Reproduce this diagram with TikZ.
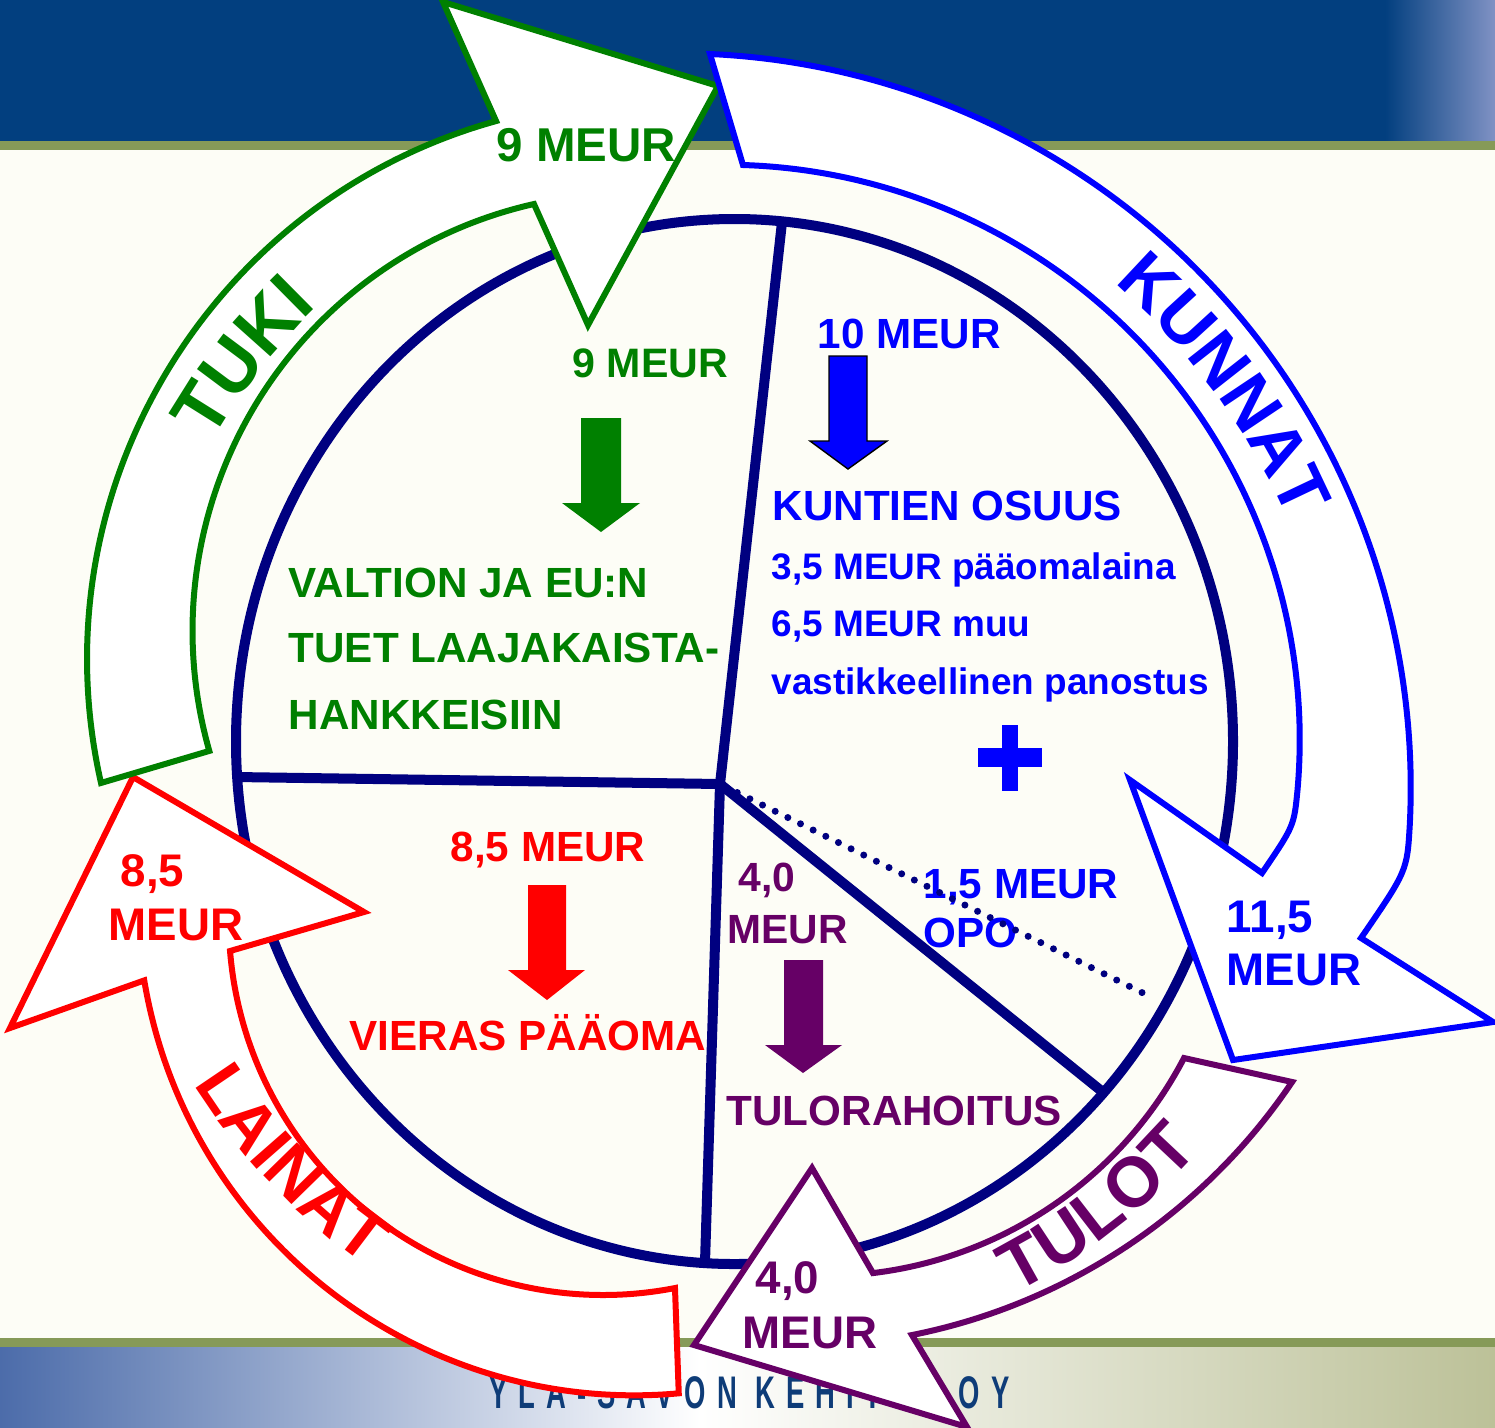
\documentclass[tikz,border=0pt]{standalone}
\usepackage{fontspec}
\setmainfont{Liberation Sans}
\usepackage{graphicx}
\usepackage{xcolor}
\usetikzlibrary{calc, decorations.text}
\definecolor{topblue}{RGB}{2,63,127}
\definecolor{topfade}{RGB}{128,146,196}
\definecolor{stripe}{RGB}{134,154,88}
\definecolor{cream}{RGB}{253,253,246}
\definecolor{bandleft}{RGB}{76,108,170}
\definecolor{bandright}{RGB}{188,193,152}
\definecolor{logoblue}{RGB}{14,60,120}
\definecolor{pienavy}{RGB}{0,0,128}
\definecolor{tukigreen}{RGB}{0,128,0}
\definecolor{kunblue}{RGB}{0,0,255}
\definecolor{lainared}{RGB}{255,0,0}
\definecolor{tulopurple}{RGB}{102,0,102}
\newcommand{\arcfont}{\bfseries\fontsize{20}{24}\selectfont}
\tikzset{%
	flow/.style={
		fill=white,
		line width=0.06cm,
		line join=miter
	},
	pieline/.style={
		draw=pienavy,
		line width=0.1cm
	},
	txt/.style={
		anchor=base west,
		inner sep=0pt,
		font=\bfseries\fontsize{12}{14}\selectfont
	},
	bigtxt/.style={txt, font=\bfseries\fontsize{13}{15}\selectfont},
	smalltxt/.style={txt, font=\bfseries\fontsize{10.5}{12}\selectfont},
}

\begin{document}
\begin{tikzpicture}[
				x=0.01cm, y=-0.01cm,
				]
				\useasboundingbox (0,0) rectangle (1495,1427);
				\clip (0,0) rectangle (1495,1427);
				\fill[cream] (0,0) rectangle (1495,1427);
				\fill[topblue] (0,0) rectangle (1495,141);
				\shade[left color=topblue, right color=topfade] (1385,0) rectangle (1495,141);
				\fill[stripe] (0,141) rectangle (1495,150);
				\fill[stripe] (0,1338) rectangle (1495,1347);
				\shade[left color=bandleft, right color=white] (0,1347) rectangle (700,1427);
				\shade[left color=white, right color=bandright] (700,1347) rectangle (1495,1427);
				\node[anchor=base west, inner sep=0pt, text=logoblue, font=\bfseries\fontsize{13}{15}\selectfont] (logo) at (489,1408) {\scalebox{0.6}[1]{\addfontfeature{LetterSpace=40}YLA-SAVON KEHITYS OY}};

				\coordinate (pie) at (734.5,741.5);
				\coordinate (flowc) at (735,743);
				\coordinate (C) at (720,784);
				\coordinate (ctop) at (782,222);
				\coordinate (cleft) at (236,777);
				\coordinate (cbottom) at (705,1262);
				\coordinate (cright) at (1104,1093);
				\coordinate (copo) at (1151,997);
				\draw[pieline] (pie) ellipse [x radius=498.5, y radius=522.5];
				\draw[pieline] (C) -- (ctop);
				\draw[pieline] (C) -- (cleft);
				\draw[pieline] (C) -- (cbottom);
				\draw[pieline] (C) -- (cright);

				\fill[tukigreen] (581,418) -- (621,418) -- (621,503) -- (640,503) -- (601,532) -- (562,503) -- (581,503) -- cycle;
				\filldraw[fill=kunblue, draw=black, line width=0.4pt] (829,356) -- (867,356) -- (867,441) -- (887,441) -- (848,469) -- (810,441) -- (829,441) -- cycle;
				\fill[tulopurple] (784,960) -- (823,960) -- (823,1045) -- (842,1045) -- (803,1073) -- (765,1045) -- (784,1045) -- cycle;
				\fill[lainared] (528,885) -- (566,885) -- (566,970) -- (585,970) -- (547,1000) -- (508,970) -- (528,970) -- cycle;
				\fill[kunblue] (978,748) rectangle (1042,767);
				\fill[kunblue] (1002,725) rectangle (1018,791);

				\node[txt, text=tukigreen, font=\bfseries\fontsize{11.7}{14}\selectfont] (tukisum) at (572,377) {9 MEUR};
				\node[txt, text=tukigreen] (valtio1) at (288,597) {VALTION JA EU:N};
				\node[txt, text=tukigreen] (valtio2) at (288,662) {TUET LAAJAKAISTA-};
				\node[txt, text=tukigreen] (valtio3) at (288,729) {HANKKEISIIN};
				\node[txt, text=kunblue] (kunsum) at (817,348) {10 MEUR};
				\node[txt, text=kunblue] (kunhead) at (772,520) {KUNTIEN OSUUS};
				\node[smalltxt, text=kunblue] (kun1) at (771,579) {3,5 MEUR pääomalaina};
				\node[smalltxt, text=kunblue] (kun2) at (771,636) {6,5 MEUR muu};
				\node[smalltxt, text=kunblue] (kun3) at (771,694) {vastikkeellinen panostus};
				\node[txt, text=kunblue] (opo1) at (923,898) {1,5 MEUR};
				\node[txt, text=kunblue] (opo2) at (923,947) {OPO};
				\node[txt, text=tulopurple, font=\bfseries\fontsize{11.6}{14}\selectfont] (tulosum1) at (738,891) {4,0};
				\node[txt, text=tulopurple, font=\bfseries\fontsize{11.6}{14}\selectfont] (tulosum2) at (727,943) {MEUR};
				\node[txt, text=tulopurple] (tulohead) at (726,1125) {TULORAHOITUS};
				\node[txt, text=lainared] (lainasum) at (450,861) {8,5 MEUR};
				\node[txt, text=lainared] (lainahead) at (349,1050) {VIERAS PÄÄOMA};
				\draw[pienavy, line width=0.07cm, line cap=round, dash pattern=on 0pt off 0.141cm] ($(C)!0.04!(copo)$) -- (copo);

				\coordinate (lainao) at (634.4,898.3);
				\coordinate (lainai) at (603,920.8);
				\coordinate (tuloo) at (794.8,747.1);
				\coordinate (tuloi) at (824.2,870);
				\coordinate (tukio) at (645.7,659.2);
				\coordinate (tukii) at (630.1,630.9);
				\coordinate (kuno) at (676.3,787.6);
				\coordinate (kuni) at (724.7,739.7);
				\draw[flow, draw=lainared] ($(lainao)+(84.88:497)$) arc[start angle=84.88, end angle=170.49, radius=497] -- (10,1028) -- (133,777) -- (364,912) -- ($(lainai)+(175.37:374.2)$) arc[start angle=175.37, end angle=78.91, radius=374.2] -- cycle;
				\draw[flow, draw=tulopurple] ($(tuloo)+(33.96:599.5)$) arc[start angle=33.96, end angle=78.73, radius=599.5] -- (967,1427) -- (694,1345) -- (812,1168) -- ($(tuloi)+(83.1:406)$) arc[start angle=83.1, end angle=27.59, radius=406] -- cycle;
				\draw[flow, draw=tukigreen] ($(tukio)+(167.2:558.6)$) arc[start angle=167.2, end angle=254.46, radius=558.6] -- (443,2) -- (718,86) -- (588,325) -- ($(tukii)+(257.31:437.6)$) arc[start angle=257.31, end angle=164.08, radius=437.6] -- cycle;
				\draw[flow, draw=kunblue] ($(kuno)+(-87.37:734.4)$) arc[start angle=-87.37, end angle=3, radius=734.4] .. controls (1407,871) .. (1361,938) -- (1493,1022) -- (1233,1060) -- (1130,780) -- (1262,873) .. controls (1294,826) .. ($(kuni)+(5:575)$) arc[start angle=5, end angle=-88.18, radius=575] -- cycle;

				\node[txt, text=tukigreen, font=\bfseries\fontsize{13.5}{15}\selectfont] (tukitop) at (496,161) {9 MEUR};
				\node[bigtxt, text=lainared] (lainatip1) at (120,886) {8,5};
				\node[bigtxt, text=lainared] (lainatip2) at (108,940) {MEUR};
				\node[bigtxt, text=tulopurple] (tulotip1) at (755,1293) {4,0};
				\node[bigtxt, text=tulopurple] (tulotip2) at (742,1348) {MEUR};
				\node[bigtxt, text=kunblue] (kuntip1) at (1226,932) {11,5};
				\node[bigtxt, text=kunblue] (kuntip2) at (1226,985) {MEUR};

				\path[decorate, decoration={text along path, text={|\arcfont\fontsize{21}{24}\selectfont|TUKI}, text align=center, text color=tukigreen}] ($(flowc)+(-176.9:604)$) arc[start angle=-176.9, end angle=-106.9, radius=604];
				\path[decorate, decoration={text along path, text={|\arcfont|KUNNAT}, text align=center, text color=kunblue}] ($(kuno)+(-71.3:668)$) arc[start angle=-71.3, end angle=-1.3, radius=668];
				\path[decorate, decoration={text along path, text={|\arcfont|TULOT}, text align=center, text color=tulopurple}] ($(flowc)+(87.1:617)$) arc[start angle=87.1, end angle=17.1, radius=617];
				\path[decorate, decoration={text along path, text={|\arcfont\fontsize{19.5}{24}\selectfont|LAINAT}, text align=center, text color=lainared}] ($(flowc)+(171.5:640)$) arc[start angle=171.5, end angle=101.5, radius=640];
			\end{tikzpicture}
\end{document}
